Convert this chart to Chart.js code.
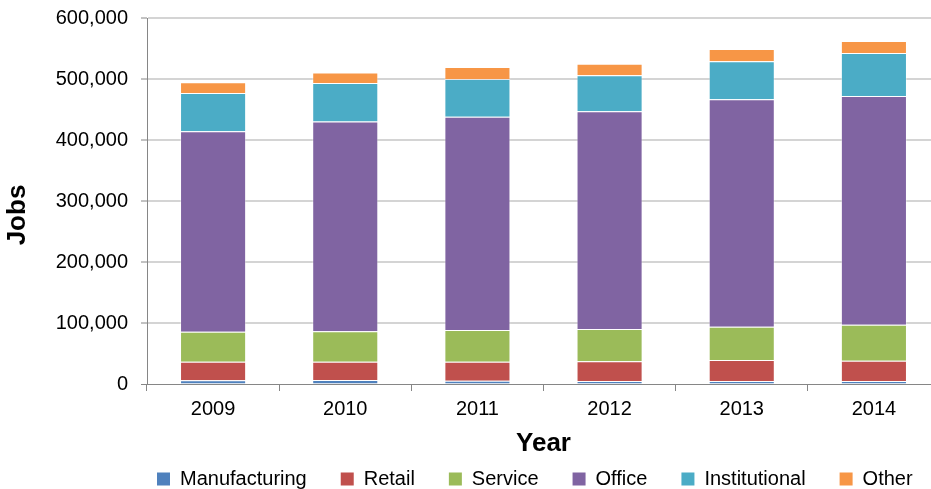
<!DOCTYPE html>
<html><head><meta charset="utf-8">
<script src="https://cdn.jsdelivr.net/npm/chart.js@4/dist/chart.umd.min.js"></script>
<style>html,body{margin:0;padding:0;overflow:hidden;background:#fff}#wrap{width:931px;height:489px;overflow:hidden}</style>
</head><body><div id="wrap"><canvas id="c" width="942" height="489"></canvas></div>
<script>
const categories = ['2009', '2010', '2011', '2012', '2013', '2014'];
const manufacturing = [6000, 6500, 5500, 5000, 5000, 5000];
const retail = [30500, 30000, 31000, 32500, 34500, 33000];
const service = [49000, 50000, 52000, 52500, 54500, 59000];
const office = [329000, 344000, 349500, 357000, 373000, 375000];
const institutional = [62500, 63000, 62000, 59000, 62000, 70500];
const other = [17500, 17000, 19500, 19000, 20000, 20000];
const yTickValues = [0, 100000, 200000, 300000, 400000, 500000, 600000];
const seriesNames = ['Manufacturing', 'Retail', 'Service', 'Office', 'Institutional', 'Other'];
const seriesColors = ['#4F81BD', '#C0504D', '#9BBB59', '#8064A2', '#4BACC6', '#F79646'];
const seriesValues = [manufacturing, retail, service, office, institutional, other];

const FONT = 'Liberation Sans, Arial, Helvetica, sans-serif';
const AXIS = '#868686';
const LEGEND_START = 157;
const Y_TITLE_SHIFT = 14;

// layout tweaks: start the centred legend row where the reference's starts,
// and nudge the y-axis title down like in the reference
const layoutTweaks = {
  id: 'layoutTweaks',
  afterLayout(chart) {
    const lg = chart.legend;
    if (lg && lg.lineWidths) {
      const p = lg.options.labels.padding;
      const cur = (lg.left + p + lg.right - lg.lineWidths[0]) / 2;
      const dx = LEGEND_START - cur;
      lg.left += dx; lg.right += dx;
    }
    const ys = chart.scales.y;
    if (ys && !ys._titleShifted) {
      const orig = ys.drawTitle.bind(ys);
      ys.drawTitle = function () {
        this.ctx.save();
        this.ctx.translate(0, Y_TITLE_SHIFT);
        orig();
        this.ctx.restore();
      };
      ys._titleShifted = true;
    }
  }
};

new Chart(document.getElementById('c'), {
  type: 'bar',
  data: {
    labels: categories,
    datasets: seriesNames.map((n, i) => ({
      label: n,
      data: seriesValues[i],
      backgroundColor: seriesColors[i],
      borderColor: 'rgba(255,255,255,0.35)',
      borderWidth: 1,
      categoryPercentage: 1.0,
      barPercentage: 0.5
    }))
  },
  plugins: [layoutTweaks],
  options: {
    responsive: false,
    animation: false,
    devicePixelRatio: 1,
    layout: { padding: { left: 0, right: 2, top: 18, bottom: -10 } },
    plugins: {
      tooltip: { enabled: false },
      legend: {
        position: 'bottom',
        labels: {
          boxWidth: 13, boxHeight: 13, padding: 34, color: '#000',
          font: { family: FONT, size: 20 },
          generateLabels: (chart) => Chart.defaults.plugins.legend.labels.generateLabels(chart).map(l => ({ ...l, lineWidth: 0 }))
        }
      }
    },
    scales: {
      x: {
        stacked: true,
        grid: { display: true, drawOnChartArea: false, drawTicks: true, tickLength: 7, tickColor: AXIS, offset: true },
        border: { color: AXIS, width: 1 },
        ticks: { color: '#000', padding: 6, font: { family: FONT, size: 20 } },
        title: { display: true, text: 'Year', color: '#000', font: { family: FONT, size: 26, weight: 'bold' }, padding: { top: 1.4, bottom: -24.6 } }
      },
      y: {
        stacked: true,
        min: 0, max: 600000,
        afterFit: s => { s.width = 147; s.paddingTop = 0; s.paddingBottom = 0; },
        afterBuildTicks: s => { s.ticks = yTickValues.map(v => ({ value: v })); },
        grid: {
          color: c => (c.tick && c.tick.value === 0) ? AXIS : '#D4D4D4',
          lineWidth: c => (c.tick && c.tick.value === 0) ? 1 : 2,
          tickLength: 6, tickColor: AXIS, tickWidth: 1
        },
        border: { color: AXIS, width: 1 },
        ticks: { color: '#000', padding: 13, font: { family: FONT, size: 20 }, callback: v => v.toLocaleString('en-US') },
        title: { display: true, text: 'Jobs', color: '#000', font: { family: FONT, size: 26, weight: 'bold' }, padding: { top: 1.9, bottom: 0 } }
      }
    }
  }
});
</script></body></html>
